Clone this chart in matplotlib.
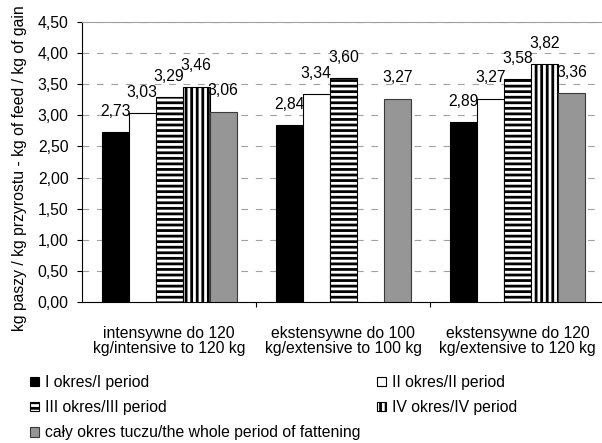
import numpy as np
import matplotlib
matplotlib.use("Agg")
import matplotlib.pyplot as plt

plt.rcParams['font.family'] = ['Liberation Sans', 'DejaVu Sans']
plt.rcParams['hatch.linewidth'] = 2.0

groups = ["intensywne do 120\nkg/intensive to 120 kg",
          "ekstensywne do 100\nkg/extensive to 100 kg",
          "ekstensywne do 120\nkg/extensive to 120 kg"]
series_names = ["I okres/I period", "II okres/II period", "III okres/III period",
                "IV okres/IV period", "cały okres tuczu/the whole period of fattening"]
period_1 = [2.73, 2.84, 2.89]
period_2 = [3.03, 3.34, 3.27]
period_3 = [3.29, 3.60, 3.58]
period_4 = [3.46, np.nan, 3.82]
whole_period = [3.06, 3.27, 3.36]
y_ticks = [0.0, 0.5, 1.0, 1.5, 2.0, 2.5, 3.0, 3.5, 4.0, 4.5]

series = [period_1, period_2, period_3, period_4, whole_period]
styles = [dict(color='black', edgecolor='black'),
          dict(color='white', edgecolor='black'),
          dict(color='white', edgecolor='black', hatch='---'),
          dict(color='white', edgecolor='black', hatch='|||'),
          dict(color='#969696', edgecolor='#3a3a3a')]

FS = 11.3
fig = plt.figure(figsize=(6.02, 4.43), dpi=100)
ax = fig.add_axes([82 / 602, 1 - 302 / 443, 1 - 82 / 602, 280 / 443])

x = np.arange(len(groups))
w = 0.155
handles = []
for i, (vals, st) in enumerate(zip(series, styles)):
    pos = x + (i - 2) * w
    bars = ax.bar(pos, vals, w, linewidth=0.8, zorder=3, label=series_names[i], **st)
    handles.append(bars)
    for px, v in zip(pos, vals):
        if np.isnan(v):
            continue
        ax.annotate(f"{v:.2f}".replace('.', ','), (px, v), xytext=(0, 15),
                    textcoords='offset points', ha='center', va='center', fontsize=FS)

ax.set_xlim(-0.5, 2.485)
ax.set_ylim(0, 4.5)
ax.set_yticks(y_ticks)
ax.set_yticklabels([f"{t:.2f}".replace('.', ',') for t in y_ticks], fontsize=FS)
ax.tick_params(axis='y', direction='out', length=3.6, width=0.8, pad=6)

ax.set_xticks(x)
ax.set_xticklabels(groups, fontsize=FS, linespacing=1.05)
ax.set_xticks([0.5, 1.5], minor=True)
ax.tick_params(axis='x', which='major', length=0, pad=17)
ax.tick_params(axis='x', which='minor', direction='out', length=3.6, width=0.8)

ax.yaxis.grid(True, color='#a0a0a0', linestyle=(0, (6, 7)), linewidth=0.8, zorder=0)
ax.set_axisbelow(True)
ax.spines['right'].set_visible(False)
ax.spines['top'].set_color('#a0a0a0')
ax.spines['top'].set_linewidth(0.8)
ax.spines['left'].set_linewidth(0.8)
ax.spines['bottom'].set_linewidth(0.8)

fig.text(20 / 602, 1 - 168 / 443, "kg paszy / kg przyrostu - kg of feed / kg of gain",
         rotation=90, ha='center', va='center', fontsize=FS)

leg_kw = dict(frameon=False, fontsize=FS, handlelength=0.55, handleheight=0.55,
              handletextpad=0.4, labelspacing=0.65, borderpad=0, borderaxespad=0,
              loc='upper left')
leg1 = fig.legend([handles[0], handles[2], handles[4]],
                  [series_names[0], series_names[2], series_names[4]],
                  bbox_to_anchor=(30 / 602, 1 - 375 / 443), **leg_kw)
leg2 = fig.legend([handles[1], handles[3]],
                  [series_names[1], series_names[3]],
                  bbox_to_anchor=(377 / 602, 1 - 375 / 443), **leg_kw)

fig.savefig("out.png", dpi=100)
